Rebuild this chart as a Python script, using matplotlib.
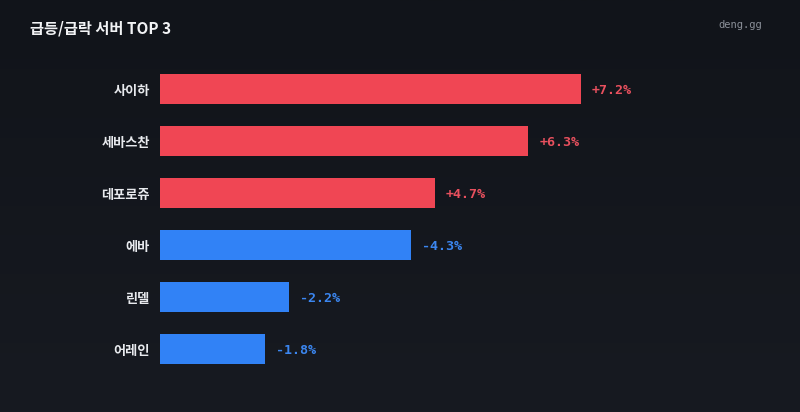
import matplotlib
matplotlib.use("Agg")
import matplotlib.pyplot as plt
import numpy as np
from matplotlib.colors import LinearSegmentedColormap

servers = ["사이하", "세바스찬", "데포로쥬", "에바", "린델", "어레인"]
changes = [7.2, 6.3, 4.7, -4.3, -2.2, -1.8]
title = "급등/급락 서버 TOP 3"
brand = "deng.gg"

RED = "#f04654"
BLUE = "#3182f6"
RED_TXT = "#e8505e"
BLUE_TXT = "#3b86f0"

W, H = 800, 412
fig = plt.figure(figsize=(W / 100, H / 100), dpi=100)

# background gradient
bg = fig.add_axes([0, 0, 1, 1])
grad = np.linspace(0, 1, 256).reshape(-1, 1)
cmap = LinearSegmentedColormap.from_list("bg", ["#11141a", "#171a21"])
bg.imshow(grad, aspect="auto", cmap=cmap, extent=[0, 1, 0, 1], origin="upper")
bg.set_axis_off()

left_px, right_px = 160, 581
top_px, bot_px = 63, 375
ax = fig.add_axes([left_px / W, 1 - bot_px / H, (right_px - left_px) / W, (bot_px - top_px) / H])
ax.set_facecolor("none")
ax.patch.set_alpha(0)

ypos = np.arange(len(servers))
vals = np.abs(changes)
colors = [RED if c > 0 else BLUE for c in changes]
ax.barh(ypos, vals, height=30 / 52, color=colors, left=0)
ax.set_xlim(0, max(vals))
ax.set_ylim(len(servers) - 0.5, -0.5)
ax.set_axis_off()

kfont = ["Noto Sans CJK KR", "DejaVu Sans"]
for y, name, v, c in zip(ypos, servers, vals, changes):
    ax.annotate(name, xy=(0, y), xytext=(-10, -2), textcoords="offset pixels",
                ha="right", va="center", fontsize=9.5, color="#e8eaee",
                family=kfont, fontweight="bold")
    lbl = f"{'+' if c > 0 else '-'}{abs(c):.1f}%"
    ax.annotate(lbl, xy=(v, y), xytext=(11, -2), textcoords="offset pixels",
                ha="left", va="center", fontsize=9.6, color=RED_TXT if c > 0 else BLUE_TXT,
                family="DejaVu Sans Mono", fontweight="bold")

fig.text(30 / W, 1 - 29 / H, title, ha="left", va="center", fontsize=11,
         color="#f2f3f5", family=kfont, fontweight="bold")
fig.text(762 / W, 1 - 25 / H, brand, ha="right", va="center", fontsize=7.5,
         color="#8b9099", family="DejaVu Sans Mono")

fig.savefig("out.png", dpi=100)
